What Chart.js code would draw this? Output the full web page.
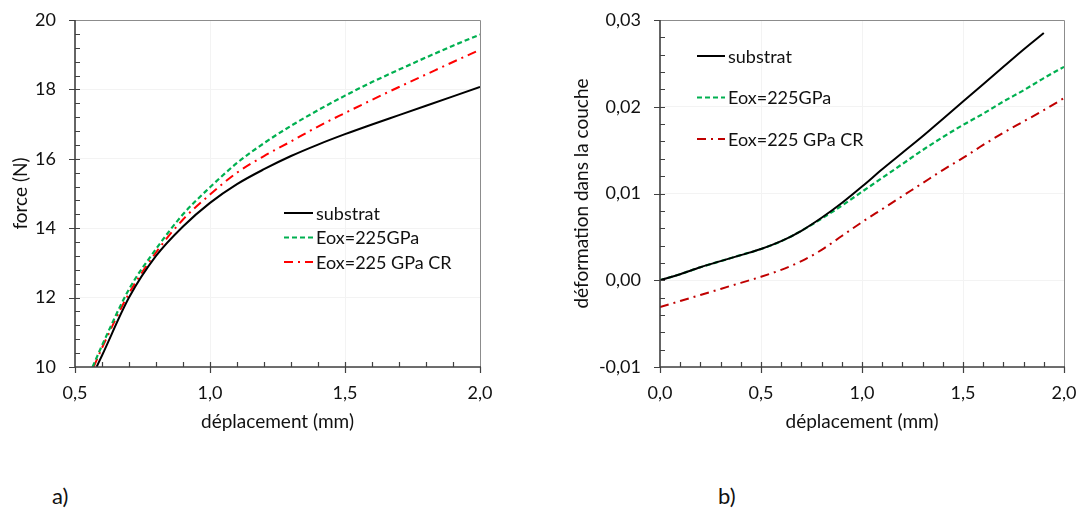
<!DOCTYPE html>
<html lang="fr">
<head>
<meta charset="utf-8">
<script src="https://cdn.jsdelivr.net/npm/chart.js@4.4.1/dist/chart.umd.min.js"></script>
<style>
  html, body { margin: 0; padding: 0; background: #fff; }
  body { width: 1079px; height: 517px; position: relative; overflow: hidden; }
  .panel { position: absolute; top: 0; }
  .tag { position: absolute; top: 482px; font: 22px Lato, sans-serif; color: #111; }
</style>
</head>
<body>
<div class="panel" style="left:0"><canvas id="chartA" width="540" height="460"></canvas></div>
<div class="panel" style="left:540px"><canvas id="chartB" width="539" height="460"></canvas></div>
<div class="tag" style="left:52px">a)</div>
<div class="tag" style="left:718px">b)</div>
<script>
// --- a) force / déplacement ---
const seriesNames = ['substrat', 'Eox=225GPa', 'Eox=225 GPa CR'];

const dispSubA = [0.58, 0.6, 0.7, 0.8, 0.9, 1.0, 1.1, 1.2, 1.3, 1.4, 1.5, 1.6, 1.7, 1.8, 1.9, 2.0];
const forceSub = [10.0, 10.33, 12.0, 13.2, 14.05, 14.73, 15.27, 15.7, 16.08, 16.41, 16.71, 16.99, 17.26, 17.53, 17.8, 18.07];

const dispEoxA = [0.565, 0.6, 0.7, 0.8, 0.9, 1.0, 1.1, 1.2, 1.3, 1.4, 1.5, 1.6, 1.7, 1.8, 1.9, 2.0];
const forceEox = [10.0, 10.62, 12.24, 13.4, 14.4, 15.18, 15.88, 16.45, 16.95, 17.4, 17.82, 18.21, 18.57, 18.92, 19.26, 19.58];

const dispCrA = [0.569, 0.6, 0.7, 0.8, 0.9, 1.0, 1.1, 1.2, 1.3, 1.4, 1.5, 1.6, 1.7, 1.8, 1.9, 2.0];
const forceCr = [10.0, 10.55, 12.12, 13.3, 14.25, 14.97, 15.6, 16.08, 16.5, 16.93, 17.32, 17.7, 18.07, 18.43, 18.79, 19.14];

const forceTicks = [10, 12, 14, 16, 18, 20];
const dispTicksA = [0.5, 1.0, 1.5, 2.0];

// --- b) déformation dans la couche / déplacement ---
const dispSubB = [0, 0.1, 0.2, 0.3, 0.4, 0.5, 0.6, 0.7, 0.8, 0.9, 1.0, 1.1, 1.2, 1.3, 1.4, 1.5, 1.6, 1.7, 1.8, 1.9];
const strainSub = [0, 0.0007, 0.0015, 0.0022, 0.0029, 0.0036, 0.0045, 0.0057, 0.0072, 0.0089, 0.0108, 0.0128, 0.0147, 0.0166, 0.0186, 0.0206, 0.0226, 0.0246, 0.0266, 0.0285];

const dispB = [0, 0.1, 0.2, 0.3, 0.4, 0.5, 0.6, 0.7, 0.8, 0.9, 1.0, 1.1, 1.2, 1.3, 1.4, 1.5, 1.6, 1.7, 1.8, 1.9, 2.0];
const strainEox = [0, 0.0007, 0.0015, 0.0022, 0.0029, 0.0036, 0.0045, 0.0057, 0.0071, 0.0086, 0.0102, 0.0118, 0.0134, 0.0150, 0.0165, 0.0179, 0.0192, 0.0206, 0.0219, 0.0233, 0.0246];
const strainCr = [-0.0031, -0.0024, -0.0017, -0.0010, -0.0003, 0.0004, 0.0012, 0.0022, 0.0035, 0.0051, 0.0067, 0.0082, 0.0097, 0.0112, 0.0127, 0.0141, 0.0156, 0.0170, 0.0183, 0.0196, 0.0210];

const strainTicks = [-0.01, 0, 0.01, 0.02, 0.03];
const dispTicksB = [0, 0.5, 1.0, 1.5, 2.0];

Chart.defaults.font.family = 'Lato, sans-serif';
Chart.defaults.color = '#111';

const toPoints = (xs, ys) => xs.map((x, i) => ({ x: x, y: ys[i] }));
const comma = d => v => Number(v).toFixed(d).replace('.', ',');

// axes lines, gray frame, major ticks outward and minor ticks inward
const framePlugin = {
  id: 'frame',
  afterDatasetsDraw(chart, args, opts) {
    const { ctx, chartArea: a, scales: { x, y } } = chart;
    ctx.save();
    ctx.strokeStyle = '#8c8c8c';
    ctx.lineWidth = 1;
    ctx.beginPath();
    ctx.moveTo(a.left, a.top + 0.5);
    ctx.lineTo(a.right + 0.5, a.top + 0.5);
    ctx.lineTo(a.right + 0.5, a.bottom);
    ctx.stroke();

    ctx.strokeStyle = '#404040';
    ctx.lineWidth = 1.2;
    ctx.beginPath();
    const nx = Math.round((x.max - x.min) / opts.xMinor);
    for (let i = 1; i < nx; i++) {
      const px = Math.round(x.getPixelForValue(x.min + i * opts.xMinor)) + 0.5;
      ctx.moveTo(px, a.bottom);
      ctx.lineTo(px, a.bottom - 5);
    }
    const ny = Math.round((y.max - y.min) / opts.yMinor);
    for (let i = 1; i < ny; i++) {
      const py = Math.round(y.getPixelForValue(y.min + i * opts.yMinor)) + 0.5;
      ctx.moveTo(a.left, py);
      ctx.lineTo(a.left + 5, py);
    }
    x.ticks.forEach(t => {
      const px = Math.round(x.getPixelForValue(t.value)) + 0.5;
      ctx.moveTo(px, a.bottom);
      ctx.lineTo(px, a.bottom + 6);
    });
    y.ticks.forEach(t => {
      const py = Math.round(y.getPixelForValue(t.value)) + 0.5;
      ctx.moveTo(a.left, py);
      ctx.lineTo(a.left - 6, py);
    });
    ctx.stroke();

    ctx.lineWidth = 1.6;
    ctx.beginPath();
    ctx.moveTo(a.left, a.top);
    ctx.lineTo(a.left, a.bottom);
    ctx.lineTo(a.right + 1, a.bottom);
    ctx.stroke();
    ctx.restore();
  }
};

// legend drawn inside the plot area
const legendPlugin = {
  id: 'inlineLegend',
  afterDraw(chart, args, opts) {
    const ctx = chart.ctx;
    ctx.save();
    ctx.font = '18px Lato, sans-serif';
    ctx.textBaseline = 'middle';
    chart.data.datasets.forEach((ds, i) => {
      const yy = opts.y + i * opts.dy;
      ctx.strokeStyle = ds.borderColor;
      ctx.lineWidth = ds.borderWidth;
      ctx.setLineDash(ds.borderDash || []);
      ctx.beginPath();
      ctx.moveTo(opts.x, yy);
      ctx.lineTo(opts.x + opts.len, yy);
      ctx.stroke();
      ctx.setLineDash([]);
      ctx.fillStyle = '#111';
      ctx.fillText(ds.label, opts.x + opts.len + 3, yy + 1);
    });
    ctx.restore();
  }
};

function lineSet(label, pts, color, width, dash) {
  return {
    label: label,
    data: pts,
    borderColor: color,
    borderWidth: width,
    borderDash: dash,
    pointRadius: 0,
    fill: false,
    cubicInterpolationMode: 'monotone'
  };
}

function makeChart(id, cfg) {
  const h = 460;
  return new Chart(document.getElementById(id), {
    type: 'line',
    data: { datasets: cfg.datasets },
    plugins: [framePlugin, legendPlugin],
    options: {
      responsive: false,
      animation: false,
      layout: { padding: { left: 0, right: cfg.padRight, top: 20, bottom: 0 } },
      plugins: {
        legend: { display: false },
        tooltip: { enabled: false },
        frame: { xMinor: cfg.xMinor, yMinor: cfg.yMinor },
        inlineLegend: cfg.legend
      },
      scales: {
        x: {
          type: 'linear',
          min: cfg.xTicks[0],
          max: cfg.xTicks[cfg.xTicks.length - 1],
          afterBuildTicks: s => { s.ticks = cfg.xTicks.map(v => ({ value: v })); },
          afterFit: s => { s.height = h - 367; s.paddingLeft = 0; s.paddingRight = 0; },
          grid: { color: '#f3f3f3', drawTicks: false },
          border: { display: false },
          ticks: { padding: 15, autoSkip: false, maxRotation: 0, font: { size: 18 }, callback: comma(1) },
          title: { display: true, text: 'déplacement (mm)', font: { size: 19 }, padding: { top: 0, bottom: 27 } }
        },
        y: {
          type: 'linear',
          min: cfg.yTicks[0],
          max: cfg.yTicks[cfg.yTicks.length - 1],
          afterBuildTicks: s => { s.ticks = cfg.yTicks.map(v => ({ value: v })); },
          afterFit: s => { s.width = cfg.axisLeft; s.paddingTop = 0; s.paddingBottom = 0; },
          grid: { color: '#f3f3f3', drawTicks: false },
          border: { display: false },
          ticks: { padding: 19, font: { size: 18 }, callback: comma(cfg.yDigits) },
          title: { display: true, text: cfg.yTitle, font: { size: 19 }, padding: { top: cfg.yTitlePad, bottom: 0 } }
        }
      }
    }
  });
}

makeChart('chartA', {
  datasets: [
    lineSet(seriesNames[0], toPoints(dispSubA, forceSub), '#000000', 2, []),
    lineSet(seriesNames[1], toPoints(dispEoxA, forceEox), '#00B050', 2.2, [5, 3]),
    lineSet(seriesNames[2], toPoints(dispCrA, forceCr), '#FF0000', 2, [9, 5, 2, 5])
  ],
  xTicks: dispTicksA, yTicks: forceTicks, yDigits: 0,
  xMinor: 0.1, yMinor: 0.4,
  axisLeft: 75, padRight: 60,
  yTitle: 'force (N)', yTitlePad: 9,
  legend: { x: 284, y: 213, dy: 24.5, len: 29 }
});

makeChart('chartB', {
  datasets: [
    lineSet(seriesNames[0], toPoints(dispSubB, strainSub), '#000000', 2, []),
    lineSet(seriesNames[1], toPoints(dispB, strainEox), '#00B050', 2.2, [5, 3]),
    lineSet(seriesNames[2], toPoints(dispB, strainCr), '#C00000', 2, [9, 5, 2, 5])
  ],
  xTicks: dispTicksB, yTicks: strainTicks, yDigits: 2,
  xMinor: 0.1, yMinor: 0.002,
  axisLeft: 120, padRight: 15,
  yTitle: 'déformation dans la couche', yTitlePad: 30,
  legend: { x: 157, y: 56, dy: 41.5, len: 28 }
});
</script>
</body>
</html>
